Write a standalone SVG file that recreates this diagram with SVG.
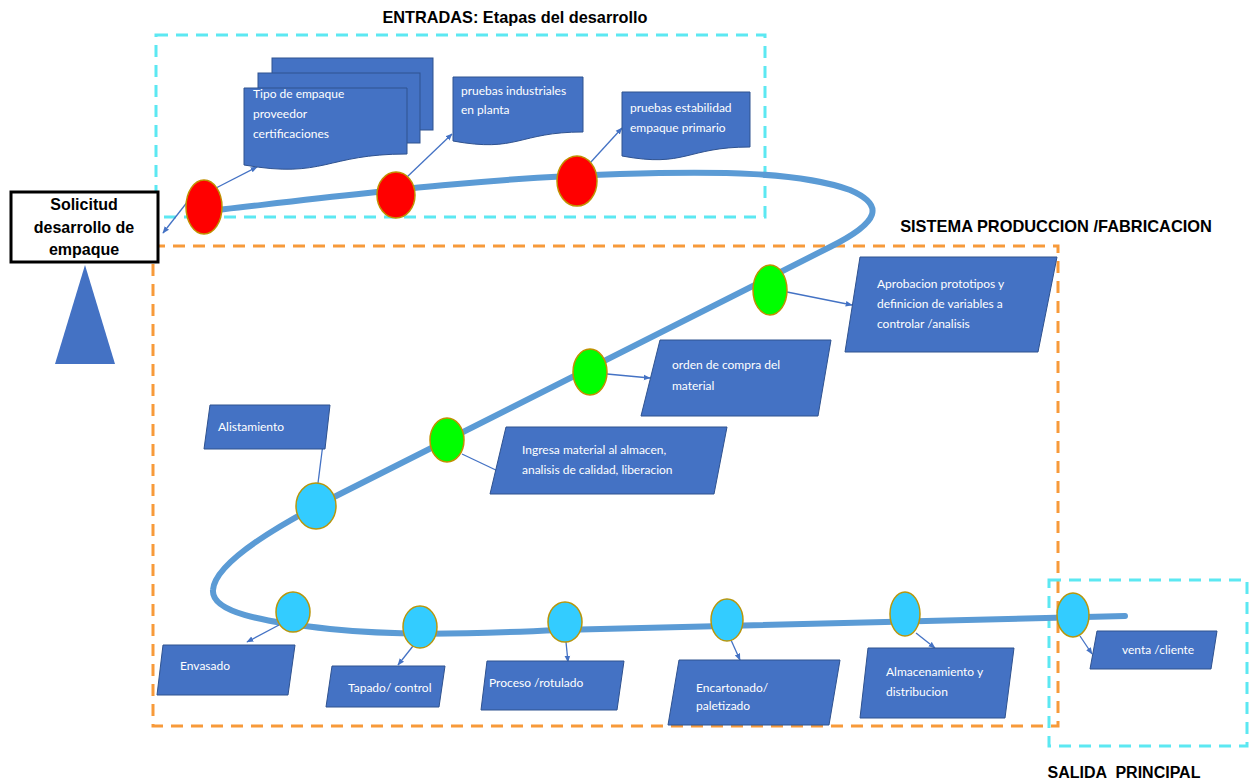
<svg xmlns="http://www.w3.org/2000/svg" width="1250" height="782" viewBox="0 0 1250 782">
<style>
.title{font-family:"Liberation Sans",Arial,sans-serif;font-weight:bold;font-size:16px;fill:#000}
.lbl{font-family:Lato,"Open Sans",sans-serif;font-size:12px;fill:#fff}
.shape{fill:#4472C4;stroke:#2F528F;stroke-width:1}
.red{fill:#FF0000;stroke:#C09000;stroke-width:1.5}
.grn{fill:#00FF00;stroke:#C09000;stroke-width:1.5}
.cyn{fill:#33CCFF;stroke:#B8960C;stroke-width:1.5}
.frameC{fill:none;stroke:#5CE8F2;stroke-width:3;stroke-dasharray:12 8}
.frameO{fill:none;stroke:#F79A3A;stroke-width:3;stroke-dasharray:12 8}
.conn{fill:none;stroke:#4472C4;stroke-width:1.3}
</style>
<defs>
<marker id="ah" viewBox="0 0 10 10" refX="9" refY="5" markerWidth="7" markerHeight="7" orient="auto" markerUnits="userSpaceOnUse">
<path d="M0,1 L10,5 L0,9 z" fill="#4472C4"/>
</marker>
</defs>
<rect width="1250" height="782" fill="#fff"/>

<g id="frames">
<rect class="frameC" x="156" y="35" width="609" height="182"/>
<rect class="frameO" x="153" y="246" width="905" height="480"/>
<rect class="frameC" x="1049" y="580" width="198" height="166"/>
</g>

<g id="titles">
<text class="title" x="515" y="23" text-anchor="middle" style="font-size:16.3px">ENTRADAS: Etapas del desarrollo</text>
<text class="title" x="1056" y="232" text-anchor="middle" style="font-size:16.4px">SISTEMA PRODUCCION /FABRICACION</text>
<text class="title" x="1124" y="778" text-anchor="middle" xml:space="preserve">SALIDA  PRINCIPAL</text>
</g>

<g id="solicitud">
<rect x="11" y="192" width="147" height="70" fill="#fff" stroke="#000" stroke-width="3"/>
<text class="title" x="84" y="210" text-anchor="middle">Solicitud</text>
<text class="title" x="84" y="233" text-anchor="middle">desarrollo de</text>
<text class="title" x="84" y="255" text-anchor="middle">empaque</text>
</g>
<g id="triangle">
<polygon points="85,265 115,364 55,364" fill="#4472C4"/>
</g>

<g id="curve">
<path d="M 200 212 C 350 195, 480 178, 620 174 C 720 171, 800 172, 850 190 C 885 205, 880 222, 830 247 L 340 494 C 290 519, 215 560, 213 590 C 211 612, 262 622, 330 629 C 390 635, 450 635, 560 630 L 1125 616" fill="none" stroke="#5B9BD5" stroke-width="6" stroke-linecap="round"/>
</g>

<g id="connectors">
<path class="conn" d="M192,196 L163,233" marker-end="url(#ah)"/>
<path class="conn" d="M216,188 L257,167" marker-end="url(#ah)"/>
<path class="conn" d="M407,177 L452,134" marker-end="url(#ah)"/>
<path class="conn" d="M590,163 L622,128" marker-end="url(#ah)"/>
<path class="conn" d="M787,292 L852,305" marker-end="url(#ah)"/>
<path class="conn" d="M607,374 L650,378" marker-end="url(#ah)"/>
<path class="conn" d="M462,454 L500,472"/>
<path class="conn" d="M318,483 L325,428" marker-end="url(#ah)"/>
<path class="conn" d="M279,625 L247,642" marker-end="url(#ah)"/>
<path class="conn" d="M413,646 L398,665" marker-end="url(#ah)"/>
<path class="conn" d="M566,642 L568,662" marker-end="url(#ah)"/>
<path class="conn" d="M731,640 L740,660" marker-end="url(#ah)"/>
<path class="conn" d="M916,633 L935,648" marker-end="url(#ah)"/>
<path class="conn" d="M1080,636 L1092,654" marker-end="url(#ah)"/>
</g>

<g id="n-tipo">
<rect class="shape" x="272" y="58" width="161" height="72"/>
<rect class="shape" x="258" y="73" width="162" height="70"/>
<path class="shape" d="M244,88 H407 V154 C325,154 325,179 244,165 Z"/>
<text class="lbl" x="253" y="98">Tipo de empaque</text>
<text class="lbl" x="253" y="118">proveedor</text>
<text class="lbl" x="253" y="138">certificaciones</text>
</g>
<g id="n-industriales">
<path class="shape" d="M453,77 H583 V132 C518,132 518,153 453,141 Z"/>
<text class="lbl" x="461" y="95">pruebas industriales</text>
<text class="lbl" x="461" y="114">en planta</text>
</g>
<g id="n-estabilidad">
<path class="shape" d="M622,92 H750 V147 C686,147 686,168 622,156 Z"/>
<text class="lbl" x="630" y="112">pruebas estabilidad</text>
<text class="lbl" x="630" y="132">empaque primario</text>
</g>

<g id="n-aprobacion">
<polygon class="shape" points="860,257 1057,257 1038,352 845,352"/>
<text class="lbl" x="877" y="288">Aprobacion prototipos y</text>
<text class="lbl" x="877" y="308">definicion de variables a</text>
<text class="lbl" x="877" y="328">controlar /analisis</text>
</g>
<g id="n-orden">
<polygon class="shape" points="660,340 831,340 818,416 641,416"/>
<text class="lbl" x="672" y="369">orden de compra del</text>
<text class="lbl" x="672" y="390">material</text>
</g>
<g id="n-ingresa">
<polygon class="shape" points="506,427 727,427 714,494 490,494"/>
<text class="lbl" x="522" y="454">Ingresa material al almacen,</text>
<text class="lbl" x="522" y="474">analisis de calidad, liberacion</text>
</g>
<g id="n-alistamiento">
<polygon class="shape" points="210,405 330,405 325,449 204,449"/>
<text class="lbl" x="218" y="431">Alistamiento</text>
</g>
<g id="n-envasado">
<polygon class="shape" points="163,645 295,645 288,695 157,695"/>
<text class="lbl" x="180" y="670">Envasado</text>
</g>
<g id="n-tapado">
<polygon class="shape" points="332,666 445,666 439,707 326,707"/>
<text class="lbl" x="348" y="692">Tapado/ control</text>
</g>
<g id="n-proceso">
<polygon class="shape" points="487,661 624,661 617,710 481,710"/>
<text class="lbl" x="489" y="687">Proceso /rotulado</text>
</g>
<g id="n-encartonado">
<polygon class="shape" points="679,660 840,660 829,725 668,725"/>
<text class="lbl" x="696" y="692">Encartonado/</text>
<text class="lbl" x="696" y="710">paletizado</text>
</g>
<g id="n-almacenamiento">
<polygon class="shape" points="868,648 1014,648 1005,718 860,718"/>
<text class="lbl" x="886" y="676">Almacenamiento y</text>
<text class="lbl" x="886" y="696">distribucion</text>
</g>
<g id="n-venta">
<polygon class="shape" points="1097,631 1217,631 1211,669 1090,669"/>
<text class="lbl" x="1122" y="654">venta /cliente</text>
</g>

<g id="circles">
<ellipse class="red" cx="204" cy="207" rx="18" ry="27"/>
<ellipse class="red" cx="396" cy="195" rx="19" ry="23"/>
<ellipse class="red" cx="577" cy="181" rx="20" ry="25"/>
<ellipse class="grn" cx="770" cy="290" rx="17" ry="25"/>
<ellipse class="grn" cx="590" cy="372" rx="17" ry="23"/>
<ellipse class="grn" cx="447" cy="440" rx="17" ry="22"/>
<ellipse class="cyn" cx="316" cy="506" rx="20" ry="23"/>
<ellipse class="cyn" cx="293" cy="612" rx="17" ry="20"/>
<ellipse class="cyn" cx="420" cy="627" rx="17" ry="21"/>
<ellipse class="cyn" cx="565" cy="622" rx="17" ry="20"/>
<ellipse class="cyn" cx="727" cy="620" rx="16" ry="21"/>
<ellipse class="cyn" cx="905" cy="614" rx="15" ry="22"/>
<ellipse class="cyn" cx="1073" cy="615" rx="16" ry="22"/>
</g>
</svg>
